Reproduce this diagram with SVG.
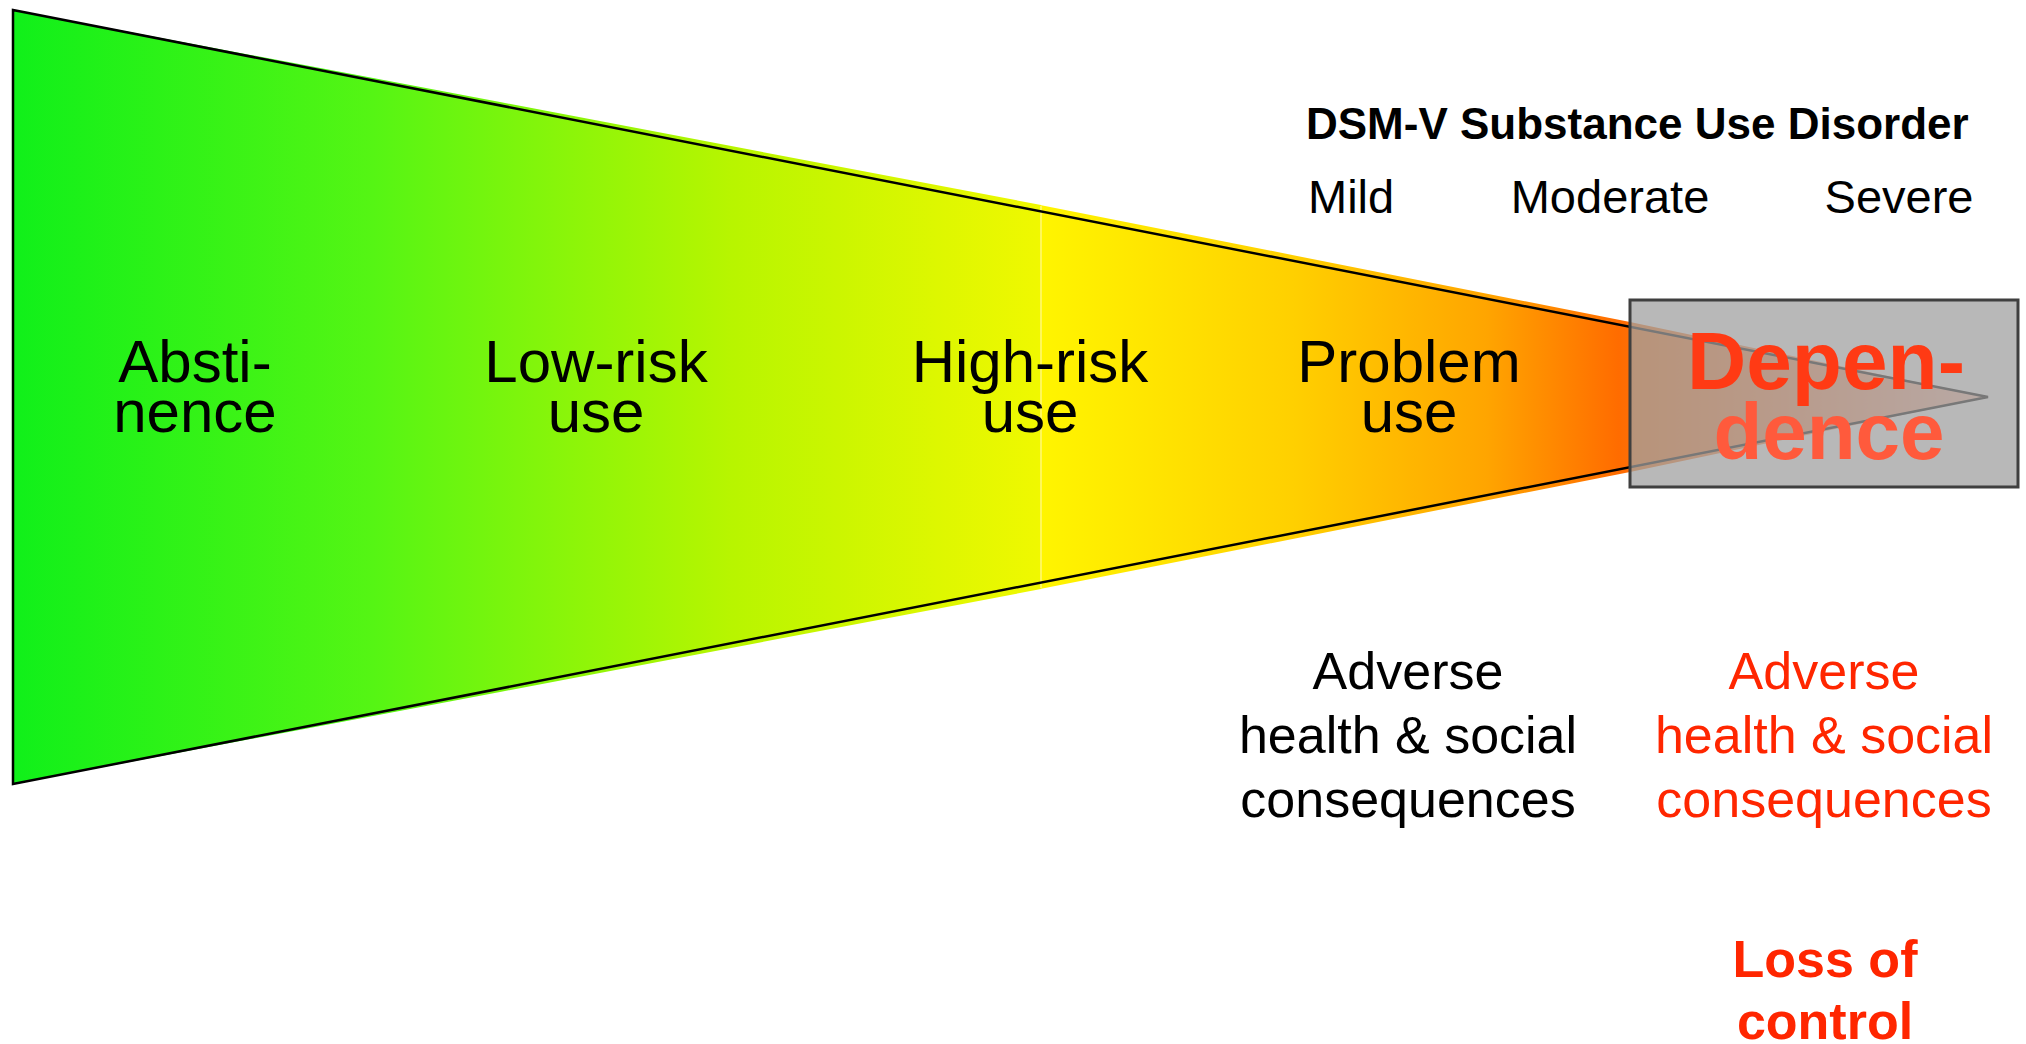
<svg xmlns="http://www.w3.org/2000/svg" width="2026" height="1044" viewBox="0 0 2026 1044">
<defs>
<linearGradient id="gL" gradientUnits="userSpaceOnUse" x1="13" y1="0" x2="1041" y2="0">
<stop offset="0" stop-color="#10f01a"/>
<stop offset="0.35" stop-color="#55f514"/>
<stop offset="0.7" stop-color="#b8f500"/>
<stop offset="1" stop-color="#f0f800"/>
</linearGradient>
<linearGradient id="gR" gradientUnits="userSpaceOnUse" x1="1041" y1="0" x2="1988" y2="0">
<stop offset="0" stop-color="#fff500"/>
<stop offset="0.265" stop-color="#ffd000"/>
<stop offset="0.47" stop-color="#ffa500"/>
<stop offset="0.61" stop-color="#ff6c00"/>
<stop offset="1" stop-color="#ff4000" stop-opacity="0.3"/>
</linearGradient>
<style>
.t{font-family:"Liberation Sans",Arial,Helvetica,sans-serif;text-anchor:middle;}
.stage{font-size:60px;fill:#000;}
.sev{font-size:47px;fill:#000;}
.adv{font-size:52px;}
</style>
</defs>

<g id="wedge">
<polygon points="13,10 500,102 1041,205 1041,589 500,692 13,784" fill="url(#gL)"/>
<polygon points="1040,205 1630,322 1988,397 1630,472 1040,589" fill="url(#gR)"/>
<line x1="1041" y1="206" x2="1041" y2="588" stroke="#ffffff" stroke-opacity="0.35" stroke-width="2"/>
<polygon points="13,10 1988,397 13,784" fill="none" stroke="#000" stroke-width="2.5" stroke-linejoin="miter"/>
</g>

<g id="dependence-box">
<rect x="1630" y="300" width="388" height="187" fill="#a0a0a0" fill-opacity="0.75" stroke="#3f3f3f" stroke-width="3"/>
</g>

<g id="abstinence"><text class="t stage" x="195" y="382">Absti-</text><text class="t stage" x="195" y="432">nence</text></g>
<g id="low-risk"><text class="t stage" x="596" y="382">Low-risk</text><text class="t stage" x="596" y="432">use</text></g>
<g id="high-risk"><text class="t stage" x="1030" y="382">High-risk</text><text class="t stage" x="1030" y="432">use</text></g>
<g id="problem"><text class="t stage" x="1409" y="382">Problem</text><text class="t stage" x="1409" y="432">use</text></g>
<g id="dependence">
<text class="t" x="1826" y="389" font-size="82" font-weight="bold" fill="#ff3a14">Depen-</text>
<text class="t" x="1829" y="459" font-size="80" font-weight="bold" fill="#ff5a3c">dence</text>
</g>

<g id="dsm">
<text x="1306" y="139" font-family="Liberation Sans,Arial,sans-serif" font-size="44" font-weight="bold" fill="#000">DSM-V Substance Use Disorder</text>
<text x="1308" y="213" font-family="Liberation Sans,Arial,sans-serif" font-size="47" fill="#000">Mild</text>
<text class="t sev" x="1610" y="213">Moderate</text>
<text class="t sev" x="1899" y="213">Severe</text>
</g>

<g id="adverse-problem">
<text class="t adv" x="1408" y="689" fill="#000">Adverse</text>
<text class="t adv" x="1408" y="753" fill="#000">health &amp; social</text>
<text class="t adv" x="1408" y="817" fill="#000">consequences</text>
</g>
<g id="adverse-dependence">
<text class="t adv" x="1824" y="689" fill="#ff2600">Adverse</text>
<text class="t adv" x="1824" y="753" fill="#ff2600">health &amp; social</text>
<text class="t adv" x="1824" y="817" fill="#ff2600">consequences</text>
</g>
<g id="loss-of-control">
<text class="t" x="1825" y="977" font-size="52" font-weight="bold" fill="#ff2600">Loss of</text>
<text class="t" x="1825" y="1039" font-size="52" font-weight="bold" fill="#ff2600">control</text>
</g>
</svg>
